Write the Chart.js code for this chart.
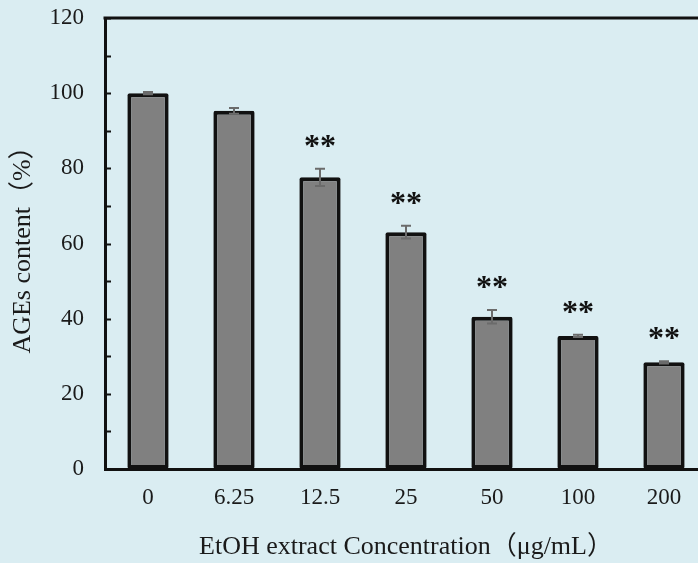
<!DOCTYPE html>
<html>
<head>
<meta charset="utf-8">
<script src="https://cdn.jsdelivr.net/npm/chart.js@4.4.1/dist/chart.umd.min.js"></script>
<style>
  html, body { margin: 0; padding: 0; background: #daedf2; overflow: hidden; }
  #wrap { width: 720px; height: 563px; }
</style>
</head>
<body>
<div id="wrap"><canvas id="chart" width="720" height="563"></canvas></div>
<script>
// concentrations (μg/mL)
const concentrations = ['0', '6.25', '12.5', '25', '50', '100', '200'];
// AGEs content (%)
const agesContent = [100, 95.3, 77.6, 63.0, 40.5, 35.4, 28.4];
const agesError = [0.3, 0.75, 2.3, 1.7, 1.8, 0.3, 0.3];
const significance = ['', '', '**', '**', '**', '**', '**'];
const yTicks = [0, 20, 40, 60, 80, 100, 120];

const serif = '"Liberation Serif", "Times New Roman", "Noto Sans CJK SC", serif';
const ink = '#111';

// background, top frame line and inward minor/major ticks
const framePlugin = {
    id: 'frame',
    beforeDraw(chart) {
        const ctx = chart.ctx;
        ctx.save();
        ctx.fillStyle = '#daedf2';
        ctx.fillRect(0, 0, chart.width, chart.height);
        ctx.restore();
    },
    afterDraw(chart) {
        const ctx = chart.ctx;
        const area = chart.chartArea;
        const y = chart.scales.y;
        ctx.save();
        ctx.strokeStyle = ink;
        ctx.lineWidth = 3;
        ctx.beginPath();
        ctx.moveTo(area.left - 1.5, area.top);
        ctx.lineTo(chart.width, area.top);
        ctx.stroke();
        ctx.lineWidth = 2;
        for (let v = y.min; v <= y.max; v += 10) {
            const py = Math.round(y.getPixelForValue(v)) + 0.5;
            ctx.beginPath();
            ctx.moveTo(area.left, py);
            ctx.lineTo(area.left + 6, py);
            ctx.stroke();
        }
        ctx.restore();
    }
};

// error bars and significance marks
const errorPlugin = {
    id: 'errors',
    afterDatasetsDraw(chart) {
        const ctx = chart.ctx;
        const y = chart.scales.y;
        const meta = chart.getDatasetMeta(0);
        ctx.save();
        meta.data.forEach((bar, i) => {
            const v = agesContent[i], e = agesError[i];
            const top = y.getPixelForValue(v + e);
            const bottom = y.getPixelForValue(v - e);
            ctx.strokeStyle = '#6b6b6b';
            ctx.lineWidth = 2;
            ctx.beginPath();
            ctx.moveTo(bar.x, top);
            ctx.lineTo(bar.x, bottom);
            ctx.moveTo(bar.x - 5, top);
            ctx.lineTo(bar.x + 5, top);
            ctx.moveTo(bar.x - 5, bottom);
            ctx.lineTo(bar.x + 5, bottom);
            ctx.stroke();
            if (significance[i]) {
                ctx.fillStyle = ink;
                ctx.font = 'bold 32px ' + serif;
                ctx.textAlign = 'center';
                ctx.textBaseline = 'alphabetic';
                ctx.fillText(significance[i], bar.x, top - 13);
            }
        });
        ctx.restore();
    }
};

new Chart(document.getElementById('chart'), {
    type: 'bar',
    data: {
        labels: concentrations,
        datasets: [{
            data: agesContent,
            backgroundColor: '#808080',
            borderColor: ink,
            borderWidth: 4,
            borderRadius: 2,
            borderSkipped: false,
            categoryPercentage: 1,
            barPercentage: 0.48
        }]
    },
    options: {
        responsive: false,
        animation: false,
        layout: { padding: { top: 18, right: 13, bottom: 0, left: 0 } },
        plugins: { legend: { display: false }, tooltip: { enabled: false } },
        scales: {
            x: {
                grid: { display: false, drawTicks: false },
                border: { color: ink, width: 3 },
                ticks: { color: '#1a1a1a', font: { family: serif, size: 23 }, padding: 15 },
                title: {
                    display: true,
                    text: 'EtOH extract Concentration（μg/mL）',
                    color: '#1a1a1a',
                    font: { family: serif, size: 26 },
                    padding: { top: 0, bottom: 0 }
                },
                afterFit(scale) { scale.height = 94; }
            },
            y: {
                min: 0,
                max: 120,
                afterBuildTicks(scale) { scale.ticks = yTicks.map(v => ({ value: v })); },
                grid: { display: false, drawTicks: false },
                border: { color: ink, width: 3 },
                ticks: { color: '#1a1a1a', font: { family: serif, size: 23 }, padding: 21 },
                title: {
                    display: true,
                    text: 'AGEs content（%）',
                    color: '#1a1a1a',
                    font: { family: serif, size: 26 },
                    padding: { top: 8, bottom: 0 }
                },
                afterFit(scale) {
                    scale.width = 105;
                    scale.paddingTop = 0;
                    scale.paddingBottom = 0;
                }
            }
        }
    },
    plugins: [framePlugin, errorPlugin]
});
</script>
</body>
</html>
